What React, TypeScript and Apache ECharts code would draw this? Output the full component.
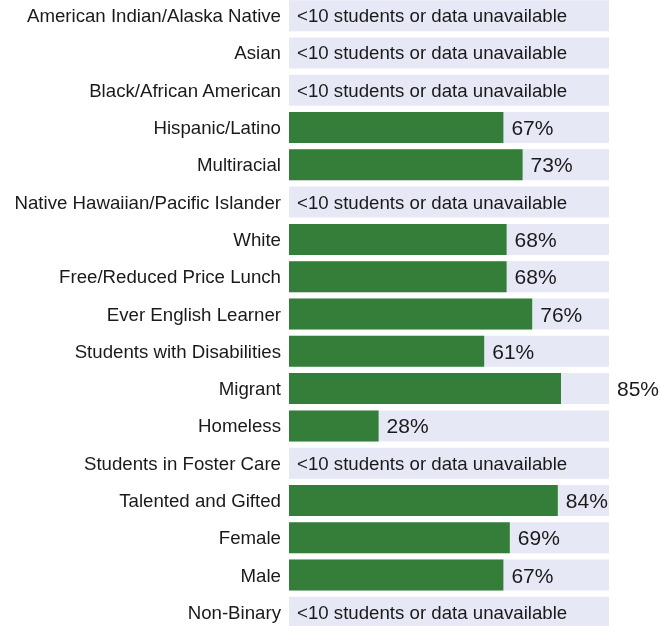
import React, { useEffect, useRef } from "react";
import * as echarts from "echarts";

const categories = [
  "American Indian/Alaska Native",
  "Asian",
  "Black/African American",
  "Hispanic/Latino",
  "Multiracial",
  "Native Hawaiian/Pacific Islander",
  "White",
  "Free/Reduced Price Lunch",
  "Ever English Learner",
  "Students with Disabilities",
  "Migrant",
  "Homeless",
  "Students in Foster Care",
  "Talented and Gifted",
  "Female",
  "Male",
  "Non-Binary",
];

const values: (number | null)[] = [
  null, null, null, 67, 73, null, 68, 68, 76, 61, 85, 28, null, 84, 69, 67, null,
];

const maxValue = 100;
const unavailableText = "<10 students or data unavailable";
const outsideTrackThreshold = 85;

export default function App() {
  const ref = useRef<HTMLDivElement>(null);
  useEffect(() => {
    if (!ref.current) return;
    const chart = echarts.init(ref.current, undefined, { renderer: "svg" });
    const font = "Liberation Sans, Arial, sans-serif";
    const textColor = "#1a1a1a";
    const pctLabel = (v: number) => ({
      show: true,
      position: "right",
      distance: 8,
      formatter: v + "%",
      fontSize: 21,
      color: textColor,
      fontFamily: font,
    });
    const bgData = values.map((v) => {
      if (v === null) {
        return {
          value: maxValue,
          label: {
            show: true,
            position: "insideLeft",
            distance: 8,
            formatter: unavailableText,
            fontSize: 18.67,
            color: textColor,
            fontFamily: font,
          },
        };
      }
      if (v >= outsideTrackThreshold) {
        return { value: maxValue, label: pctLabel(v) };
      }
      return { value: maxValue };
    });
    const valData = values.map((v) => {
      if (v === null) return { value: null };
      if (v >= outsideTrackThreshold) return { value: v };
      return { value: v, label: pctLabel(v) };
    });
    chart.setOption({
      animation: false,
      grid: { left: 289, right: 51, top: 0, bottom: 0, containLabel: false },
      xAxis: {
        type: "value",
        min: 0,
        max: maxValue,
        show: false,
      },
      yAxis: {
        type: "category",
        data: categories,
        inverse: true,
        axisLine: { show: false },
        axisTick: { show: false },
        splitLine: { show: false },
        axisLabel: {
          fontSize: 18.67,
          color: textColor,
          fontFamily: font,
          margin: 8,
        },
      },
      series: [
        {
          type: "bar",
          data: bgData,
          barWidth: 31,
          barGap: "-100%",
          itemStyle: { color: "#e6e9f5" },
          silent: true,
          z: 1,
        },
        {
          type: "bar",
          data: valData,
          barWidth: 31,
          itemStyle: { color: "#357e39" },
          z: 2,
        },
      ],
    });
    return () => chart.dispose();
  }, []);
  return (
    <div
      ref={ref}
      style={{ position: "fixed", left: 0, top: -3, width: 660, height: 634 }}
    />
  );
}
